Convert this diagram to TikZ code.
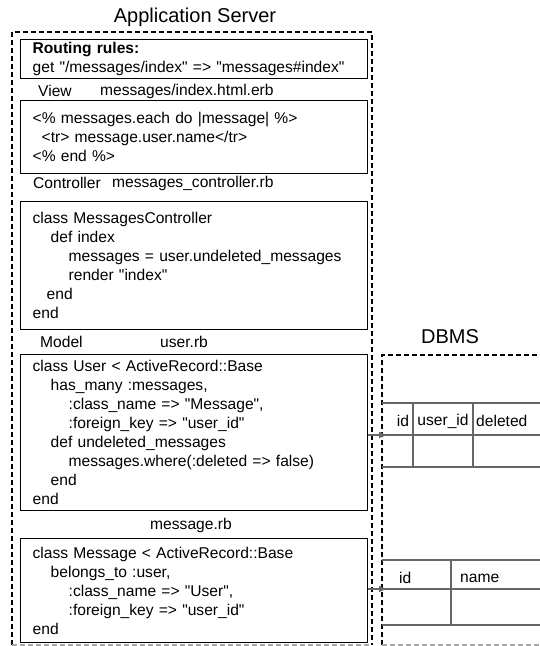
\documentclass[tikz,border=0pt]{standalone}
\usepackage{fontspec}
\setmainfont{Liberation Sans}[Ligatures=TeXOff]
\usetikzlibrary{arrows.meta}

\newcommand{\codeindent}[1]{\hspace*{#1pt}}
\newcommand{\codefont}{\fontsize{15.6}{19}\selectfont}

\tikzset{
  codebox/.style={draw,line width=1.4pt,anchor=north west,minimum width=347pt,
    text width=323pt,inner xsep=12pt,inner ysep=0pt,align=left,font=\codefont},
  filelabel/.style={anchor=west,inner sep=0pt,font=\codefont},
  bigtitle/.style={inner sep=0pt,font=\fontsize{20}{24}\selectfont},
  area/.style={dash pattern=on 5pt off 3pt,line width=1.1pt},
  gridline/.style={draw=black!60,line width=1.4pt},
  link/.style={draw=black!60,line width=1.3pt,-{Latex[length=8pt,width=7pt]}}
}

\begin{document}
\begin{tikzpicture}[x=1pt,y=-1pt]

\useasboundingbox (0,0) rectangle (540,646);

% application server
\node[bigtitle] (apptitle) at (195,17) {Application Server};
\draw[area] (12,645) -- (12,32) -- (372,32) -- (372,645);
\draw[area,black!35] (12,645) -- (372,645);

\node[codebox,minimum height=39pt] (routes) at (20,39)
  {\textbf{Routing rules:}\\get "/messages/index" => "messages\#index"};

\node[filelabel] (viewname) at (38,91) {View};
\node[filelabel] (viewfile) at (100,91) {messages/index.html.erb};
\node[codebox,minimum height=73pt] (view) at (20,100)
  {<\% messages.each do |message| \%>\\
   \codeindent{9}<tr> message.user.name</tr>\\
   <\% end \%>};

\node[filelabel] (ctrlname) at (33,183) {Controller};
\node[filelabel] (ctrlfile) at (112,183) {messages\_controller.rb};
\node[codebox,minimum height=128pt] (ctrl) at (20,201)
  {class MessagesController\\
   \codeindent{18}def index\\
   \codeindent{36}messages = user.undeleted\_messages\\
   \codeindent{36}render "index"\\
   \codeindent{14}end\\
   end};

\node[filelabel] (modelname) at (40,342) {Model};
\node[filelabel] (userfile) at (160,342) {user.rb};
\node[codebox,minimum height=156pt] (user) at (20,354)
  {class User < ActiveRecord::Base\\
   \codeindent{18}has\_many :messages,\\
   \codeindent{36}:class\_name => "Message",\\
   \codeindent{36}:foreign\_key => "user\_id"\\
   \codeindent{18}def undeleted\_messages\\
   \codeindent{36}messages.where(:deleted => false)\\
   \codeindent{18}end\\
   end};

\node[filelabel,anchor=center] (messagefile) at (191,525) {message.rb};
\node[codebox,minimum height=104pt] (message) at (20,538)
  {class Message < ActiveRecord::Base\\
   \codeindent{18}belongs\_to :user,\\
   \codeindent{36}:class\_name => "User",\\
   \codeindent{36}:foreign\_key => "user\_id"\\
   end};

% dbms
\node[bigtitle] (dbtitle) at (450,337) {DBMS};
\draw[area] (382,645) -- (382,355) -- (541,355);
\draw[area,black!35] (382,645) -- (541,645);

\foreach \y in {403,435,467} \draw[gridline] (382,\y) -- (541,\y);
\draw[gridline] (413,403) -- (413,467);
\draw[gridline] (473,403) -- (473,467);
\node[filelabel,anchor=center] (msgid) at (403,421) {id};
\node[filelabel,anchor=center] (msguser) at (443,421) {user\_id};
\node[filelabel] (msgdel) at (476,421) {deleted};

\foreach \y in {560,589,625} \draw[gridline] (382,\y) -- (541,\y);
\draw[gridline] (451,560) -- (451,625);
\node[filelabel] (userid) at (399,578) {id};
\node[filelabel] (username) at (460,578) {name};

\coordinate (msgrow) at (387,435);
\coordinate (userrow) at (387,589);
\draw[link] (user.east |- msgrow) -- (msgrow);
\draw[link] (message.east |- userrow) -- (userrow);

\end{tikzpicture}
\end{document}
